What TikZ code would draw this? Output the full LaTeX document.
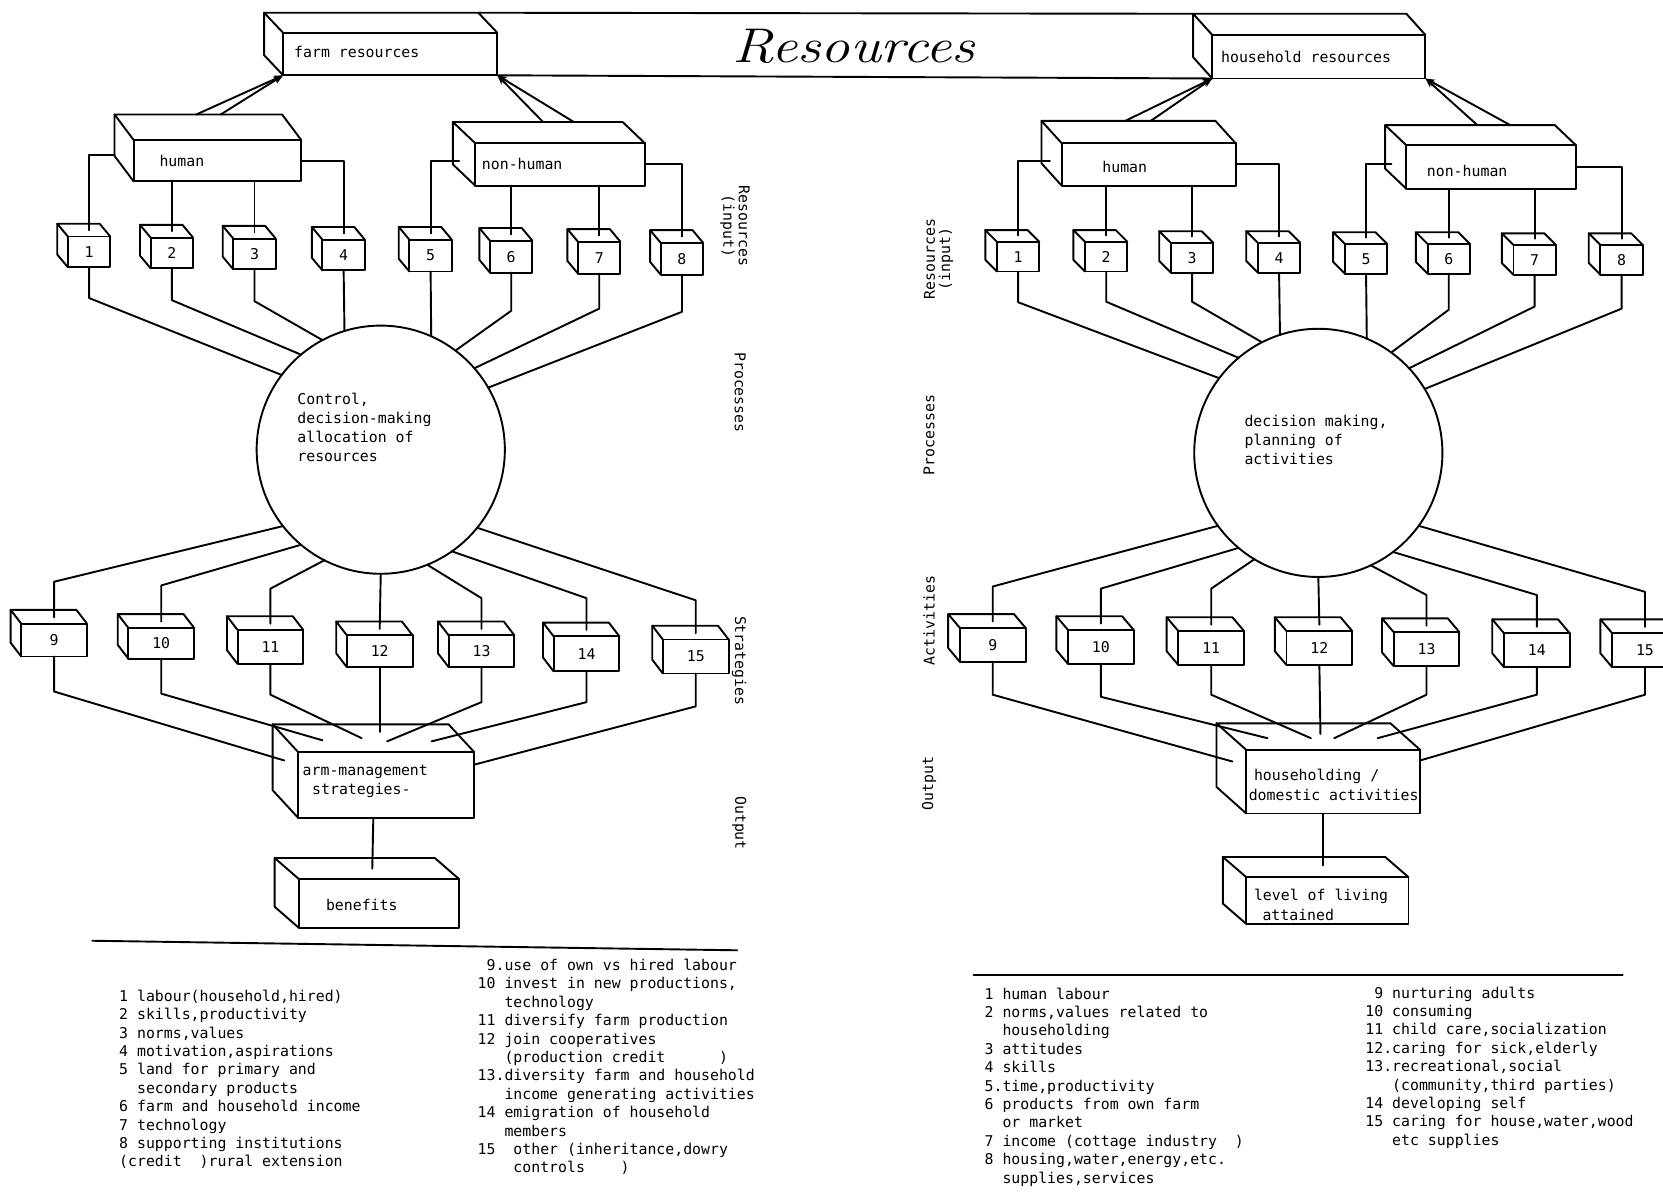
\documentclass[tikz,border=0pt]{standalone}
\usepackage{fontspec}
\newfontfamily\monofont{DejaVu Sans Mono}
\usetikzlibrary{calc,arrows.meta}
\newcommand\tmono{\monofont\fontsize{7}{8.67}\selectfont}
\newcommand\cubebox[8]{%
  \pgfmathsetmacro\cbw{(#4-#2)*0.5}%
  \pgfmathsetmacro\cbh{(#5-#3)*0.5}%
  \node[face, minimum width=\cbw pt, minimum height=\cbh pt] (#1) at ({(#2+#4)/2},{(#3+#5)/2}) {#8};%
  \draw[ln] (#1.north west) -- ++(#6,#7) -- ($(#1.north east)+(#6,#7)$) -- (#1.north east);%
  \draw[ln] ($(#1.north west)+(#6,#7)$) -- ($(#1.south west)+(#6,#7)$) -- (#1.south west);%
}
\tikzset{
  ln/.style={line width=0.9pt, line join=round, line cap=round},
  face/.style={draw, ln, rectangle, inner sep=0pt, outer sep=0pt, font=\tmono},
  lbl/.style={font=\tmono, inner sep=0pt, anchor=west},
  leg/.style={font=\tmono, inner sep=0pt, anchor=north west, align=left},
  side/.style={font=\monofont\fontsize{7}{7.2}\selectfont, inner sep=0pt, align=center},
  arr/.style={ln, -{Stealth[length=4.5pt,width=3.5pt]}},
}
\begin{document}
\begin{tikzpicture}[x=0.5pt,y=-0.5pt]
\useasboundingbox (0,0) rectangle (1568,1124);
\fill[white] (0,0) rectangle (1568,1124);
\clip (0,0) rectangle (1568,1124);

% ---------- top resource boxes ----------
\cubebox{farm}{267}{31}{469}{71}{-18}{-19}{}
\cubebox{house}{1143}{33}{1344}{74}{-18}{-20}{}
\draw[ln] ($(farm.north east)+(-18,-19)$) -- ($(house.north west)+(-18,-20)$);
\draw[ln] (farm.south east) -- (house.south west);
\node[lbl] (farmt) at (277,49) {farm resources};
\node[lbl] (houset) at (1151,54) {household resources};
\node[font=\fontsize{23}{23}\selectfont\itshape, inner sep=0pt] (restitle) at (805,44) {\scalebox{1.2}[1]{Resources}};

% ---------- left: human / non-human ----------
\cubebox{hL}{126}{132}{284}{171}{-18}{-24}{}
\cubebox{nL}{448}{135}{608}{175}{-21}{-20}{}
\node[lbl] (hLt) at (150,152) {human};
\node[lbl] (nLt) at (454,155) {non-human};

% ---------- right: human / non-human ----------
\cubebox{hR}{1001}{135}{1165}{175}{-19}{-21}{}
\cubebox{nR}{1326}{137}{1486}{178}{-20}{-19}{}
\node[lbl] (hRt) at (1039,157) {human};
\node[lbl] (nRt) at (1345,161) {non-human};

% arrows up to resource boxes
\draw[arr] ($(hL.north west)+(59,-24)$) -- (farm.south west);
\draw[arr] ($(hL.north west)+(82,-24)$) -- (farm.south west);
\draw[arr] ($(nL.north west)+(64,-20)$) -- (farm.south east);
\draw[arr] ($(nL.north west)+(93,-20)$) -- (farm.south east);
\draw[arr] ($(hR.north west)+(60,-21)$) -- (house.south west);
\draw[arr] ($(hR.north west)+(84,-21)$) -- (house.south west);
\draw[arr] ($(nR.north west)+(67,-19)$) -- (house.south east);
\draw[arr] ($(nR.north west)+(98,-19)$) -- (house.south east);

% ---------- left small boxes 1-8 ----------
\cubebox{b1}{64}{223}{104}{252}{-10}{-12}{1}
\cubebox{b2}{142}{224}{182}{253}{-10}{-12}{2}
\cubebox{b3}{220}{225}{260}{254}{-10}{-12}{3}
\cubebox{b4}{304}{226}{344}{255}{-10}{-12}{4}
\cubebox{b5}{386}{226}{426}{256}{-10}{-12}{5}
\cubebox{b6}{462}{227}{502}{257}{-10}{-12}{6}
\cubebox{b7}{545}{228}{585}{258}{-10}{-12}{7}
\cubebox{b8}{623}{229}{663}{259}{-10}{-12}{8}

% ---------- right small boxes 1-8 ----------
\cubebox{r1}{940}{228}{980}{256}{-11}{-11}{1}
\cubebox{r2}{1023}{228}{1063}{256}{-11}{-11}{2}
\cubebox{r3}{1104}{229}{1144}{257}{-11}{-11}{3}
\cubebox{r4}{1186}{229}{1226}{257}{-11}{-11}{4}
\cubebox{r5}{1268}{230}{1308}{258}{-11}{-11}{5}
\cubebox{r6}{1346}{230}{1386}{258}{-11}{-11}{6}
\cubebox{r7}{1427}{231}{1467}{259}{-11}{-11}{7}
\cubebox{r8}{1509}{231}{1549}{259}{-11}{-11}{8}

% ---------- circles ----------
\node[draw, ln, circle, minimum size=117pt, inner sep=0pt, outer sep=0pt] (cL) at (359,424) {};
\node[draw, ln, circle, minimum size=117pt, inner sep=0pt, outer sep=0pt] (cR) at (1243,427) {};
\node[leg, font=\monofont\fontsize{7}{9}\selectfont] (cLt) at (280,370) {Control,\\decision-making\\allocation of\\resources};
\node[leg, font=\monofont\fontsize{7}{9}\selectfont] (cRt) at (1173,391) {decision making,\\planning of\\activities};

% ---------- left boxes 9-15 ----------
\cubebox{b9}{20}{588}{82}{619}{-10}{-13}{9}
\cubebox{b10}{121}{592}{183}{621}{-10}{-13}{10}
\cubebox{b11}{224}{594}{286}{626}{-10}{-13}{11}
\cubebox{b12}{327}{599}{389}{629}{-10}{-13}{12}
\cubebox{b13}{423}{599}{485}{629}{-10}{-13}{13}
\cubebox{b14}{522}{600}{584}{633}{-10}{-13}{14}
\cubebox{b15}{625}{603}{687}{635}{-10}{-13}{15}

% ---------- right boxes 9-15 ----------
\cubebox{r9}{905}{592}{967}{624}{-11}{-13}{9}
\cubebox{r10}{1007}{594}{1069}{626}{-11}{-13}{10}
\cubebox{r11}{1111}{595}{1173}{627}{-11}{-13}{11}
\cubebox{r12}{1213}{595}{1275}{627}{-11}{-13}{12}
\cubebox{r13}{1314}{596}{1376}{628}{-11}{-13}{13}
\cubebox{r14}{1418}{597}{1480}{629}{-11}{-13}{14}
\cubebox{r15}{1520}{597}{1582}{629}{-11}{-13}{15}

% ---------- output boxes ----------
\cubebox{fm}{281}{709}{447}{771}{-24}{-26}{}
\cubebox{ben}{282}{829}{433}{875}{-23}{-20}{}
\cubebox{hh}{1175}{707}{1339}{767}{-28}{-25}{}
\cubebox{lev}{1175}{827}{1328}{871}{-22}{-19}{}
\node[lbl] (fmt1) at (285,728) {arm-management};
\node[lbl] (fmt2) at (294,745) {strategies-};
\node[lbl] (bent) at (307,853) {benefits};
\node[lbl] (hht1) at (1182,732) {householding /};
\node[lbl] (hht2) at (1177,750) {domestic activities};
\node[lbl] (levt1) at (1182,845) {level of living};
\node[lbl] (levt2) at (1190,863) {attained};

% ---------- left connectors ----------
\draw[ln] ($(hL.north west)+(-18,14)$) -| ($(b1.north)+(0,-6)$);
\draw[ln] (b2.north |- hL.south) -- ($(b2.north)+(0,-6)$);
\draw[ln] (b3.north |- hL.south) -- ($(b3.north)+(0,-6)$);
\draw[ln] (hL.east) -| ($(b4.north)+(0,-6)$);
\draw[ln] ($(nL.west)+(-15,-3)$) -| ($(b5.north)+(0,-6)$);
\draw[ln] (b6.north |- nL.south) -- ($(b6.north)+(0,-6)$);
\draw[ln] (b7.north |- nL.south) -- ($(b7.north)+(0,-6)$);
\draw[ln] (nL.east) -| ($(b8.north)+(0,-6)$);

\draw[ln] (b1.south) -- ++(0,29) -- (cL.143.7);
\draw[ln] (b2.south) -- ++(0,30) -- (cL.130.4);
\draw[ln] (b3.south) -- ++(0,30) -- (cL.118.8);
\draw[ln] (b4.south) -- (cL.107.4);
\draw[ln] (b5.south) -- (cL.66.3);
\draw[ln] (b6.south) -- ++(0,36) -- (cL.53.2);
\draw[ln] (b7.south) -- ++(0,33) -- (cL.41.1);
\draw[ln] (b8.south) -- ++(0,35) -- (cL.30.6);

\draw[ln] (cL.218.7) -- ($(b9.north)+(0,-39.5)$) -- ($(b9.north)+(0,-6)$);
\draw[ln] (cL.230.7) -- ($(b10.north)+(0,-40)$) -- ($(b10.north)+(0,-6)$);
\draw[ln] (cL.243.6) -- ($(b11.north)+(0,-39)$) -- ($(b11.north)+(0,-6)$);
\draw[ln] (cL.270) -- ($(b12.north)+(0,-6)$);
\draw[ln] (cL.292.3) -- ($(b13.north)+(0,-35)$) -- ($(b13.north)+(0,-6)$);
\draw[ln] (cL.305.5) -- ($(b14.north)+(0,-36)$) -- ($(b14.north)+(0,-6)$);
\draw[ln] (cL.321.6) -- ($(b15.north)+(0,-37)$) -- ($(b15.north)+(0,-6)$);

\draw[ln] (b9.south) -- ++(0,33) -- ($(fm.north west)+(-13,8)$);
\draw[ln] (b10.south) -- ++(0,33) -- ($(fm.north west)+(23,-11)$);
\draw[ln] (b11.south) -- ++(0,29) -- ($(fm.north west)+(60,-13)$);
\draw[ln] (b12.south) -- ($(fm.north west)+(77,-19)$);
\draw[ln] (b13.south) -- ++(0,33) -- ($(fm.north west)+(84,-10)$);
\draw[ln] (b14.south) -- ++(0,29) -- ($(fm.north west)+(126,-10)$);
\draw[ln] (b15.south) -- ++(0,31) -- ($(fm.north east)+(0,12)$);
\draw[ln] ($(fm.south west)+(71,0)$) -- ($(ben.north west)+(69,-10)$);

% ---------- right connectors ----------
\draw[ln] ($(hR.north west)+(-11,17)$) -| ($(r1.north)+(0,-6)$);
\draw[ln] (r2.north |- hR.south) -- ($(r2.north)+(0,-6)$);
\draw[ln] (r3.north |- hR.south) -- ($(r3.north)+(0,-6)$);
\draw[ln] (hR.east) -| ($(r4.north)+(0,-6)$);
\draw[ln] ($(nR.west)+(-14,-2.5)$) -| ($(r5.north)+(0,-6)$);
\draw[ln] (r6.north |- nR.south) -- ($(r6.north)+(0,-6)$);
\draw[ln] (r7.north |- nR.south) -- ($(r7.north)+(0,-6)$);
\draw[ln] (nR.east) -| ($(r8.north)+(0,-6)$);

\draw[ln] (r1.south) -- ++(0,29) -- (cR.143.2);
\draw[ln] (r2.south) -- ++(0,28.5) -- (cR.130.2);
\draw[ln] (r3.south) -- ++(0,27.5) -- (cR.117.6);
\draw[ln] (r4.south) -- (cR.108.4);
\draw[ln] (r5.south) -- (cR.67.4);
\draw[ln] (r6.south) -- ++(0,34) -- (cR.54.6);
\draw[ln] (r7.south) -- ++(0,30) -- (cR.43);
\draw[ln] (r8.south) -- ++(0,32) -- (cR.31.3);

\draw[ln] (cR.216.8) -- ($(r9.north)+(0,-39)$) -- ($(r9.north)+(0,-6)$);
\draw[ln] (cR.230.2) -- ($(r10.north)+(0,-39)$) -- ($(r10.north)+(0,-6)$);
\draw[ln] (cR.239.6) -- ($(r11.north)+(0,-40)$) -- ($(r11.north)+(0,-6)$);
\draw[ln] (cR.270) -- ($(r12.north)+(0,-6)$);
\draw[ln] (cR.295.5) -- ($(r13.north)+(0,-35)$) -- ($(r13.north)+(0,-6)$);
\draw[ln] (cR.307.8) -- ($(r14.north)+(0,-36)$) -- ($(r14.north)+(0,-6)$);
\draw[ln] (cR.324.1) -- ($(r15.north)+(0,-39)$) -- ($(r15.north)+(0,-6)$);

\draw[ln] (r9.south) -- ++(0,31) -- ($(hh.north west)+(-13,11)$);
\draw[ln] (r10.south) -- ++(0,31) -- ($(hh.north west)+(20,-11)$);
\draw[ln] (r11.south) -- ++(0,28) -- ($(hh.north west)+(61,-11)$);
\draw[ln] (r12.south) -- ($(hh.north west)+(70,-15)$);
\draw[ln] (r13.south) -- ++(0,27) -- ($(hh.north west)+(83,-11)$);
\draw[ln] (r14.south) -- ++(0,26) -- ($(hh.north west)+(124,-11)$);
\draw[ln] (r15.south) -- ++(0,26) -- ($(hh.north east)+(0,10)$);
\draw[ln] ($(hh.south west)+(72,0)$) -- ($(lev.north west)+(72,-11)$);

% ---------- side labels ----------
\node[side, rotate=-90] (sL1) at (693,213) {Resources\\(input)};
\node[side, rotate=-90] (sL2) at (698,370) {Processes};
\node[side, rotate=-90] (sL3) at (697,623) {Strategies};
\node[side, rotate=-90] (sL4) at (697,776) {Output};
\node[side, rotate=90] (sR1) at (885,244) {Resources\\(input)};
\node[side, rotate=90] (sR2) at (876,410) {Processes};
\node[side, rotate=90] (sR3) at (876,585) {Activities};
\node[side, rotate=90] (sR4) at (876,739) {Output};

% ---------- legends ----------
\draw[ln] (87,887) -- (695,896);
\draw[ln] (918,919) -- (1530,919);
\node[leg] (leg1) at (112,933) {1 labour(household,hired)\\2 skills,productivity\\3 norms,values\\4 motivation,aspirations\\5 land for primary and\\\phantom{00}secondary products\\6 farm and household income\\7 technology\\8 supporting institutions\\(credit~~)rural extension};
\node[leg] (leg2) at (450,904) {\phantom{0}9.use of own vs hired labour\\10 invest in new productions,\\\phantom{000}technology\\11 diversify farm production\\12 join cooperatives\\\phantom{000}(production credit~~~~~~)\\13.diversity farm and household\\\phantom{000}income generating activities\\14 emigration of household\\\phantom{000}members\\15~~other (inheritance,dowry\\\phantom{0000}controls~~~~)};
\node[leg] (leg3) at (928,931) {1 human labour\\2 norms,values related to\\\phantom{00}householding\\3 attitudes\\4 skills\\5.time,productivity\\6 products from own farm\\\phantom{00}or market\\7 income (cottage industry~~)\\8 housing,water,energy,etc.\\\phantom{00}supplies,services};
\node[leg] (leg4) at (1287,930) {\phantom{0}9 nurturing adults\\10 consuming\\11 child care,socialization\\12.caring for sick,elderly\\13.recreational,social\\\phantom{000}(community,third parties)\\14 developing self\\15 caring for house,water,wood\\\phantom{000}etc supplies};
\end{tikzpicture}
\end{document}
